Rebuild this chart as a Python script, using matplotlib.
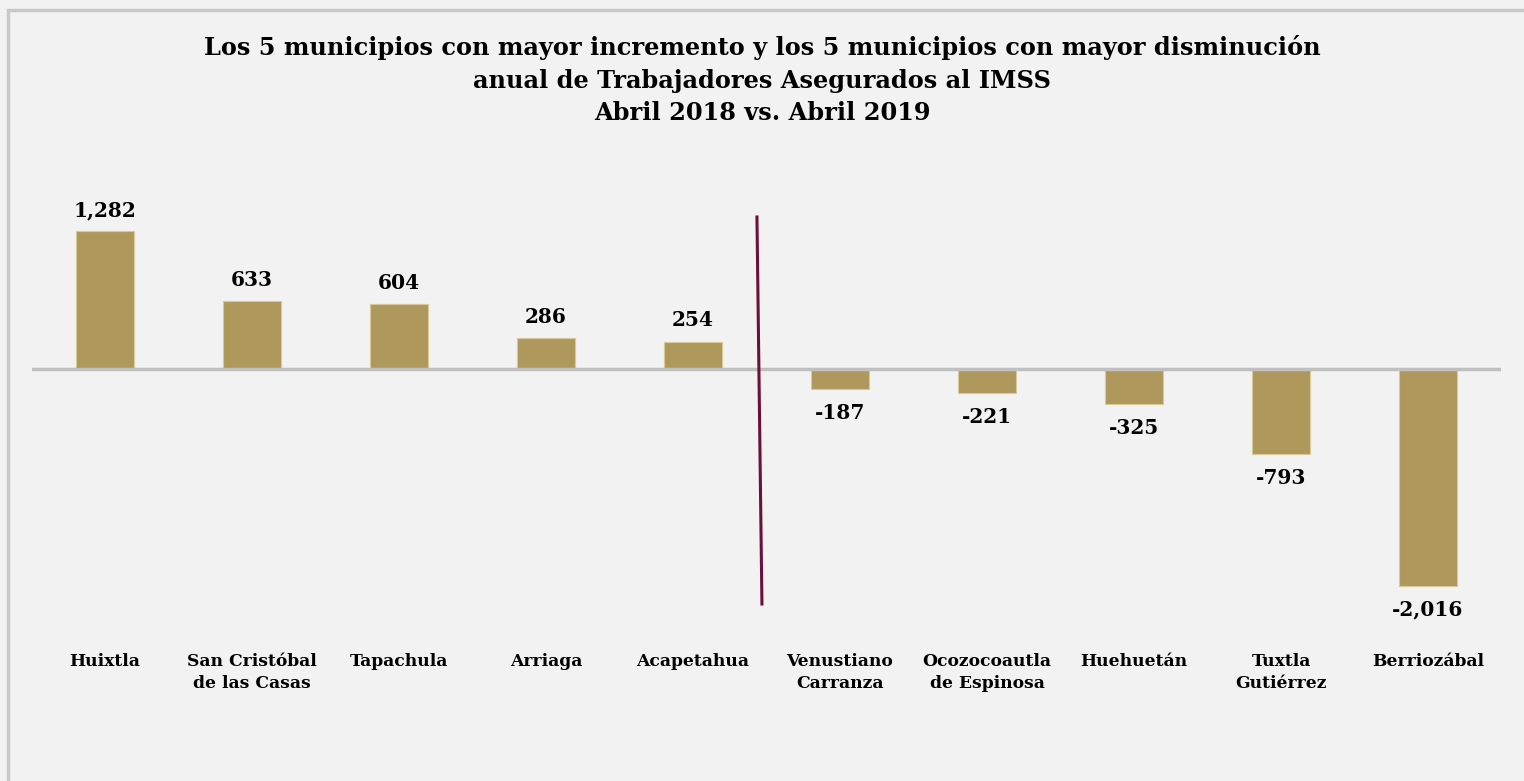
import matplotlib.pyplot as plt
from matplotlib.patches import Rectangle

# data
municipios = ["Huixtla", "San Cristóbal\nde las Casas", "Tapachula", "Arriaga", "Acapetahua",
              "Venustiano\nCarranza", "Ocozocoautla\nde Espinosa", "Huehuetán", "Tuxtla\nGutiérrez",
              "Berriozábal"]
variacion = [1282, 633, 604, 286, 254, -187, -221, -325, -793, -2016]

titulo = ("Los 5 municipios con mayor incremento y los 5 municipios con mayor disminución\n"
          "anual de Trabajadores Asegurados al IMSS\n"
          "Abril 2018 vs. Abril 2019")

W, H = 1524, 781
bg = "#f2f2f2"
bar_color = "#ae985c"

plt.rcParams['font.family'] = ['DejaVu Serif']

fig = plt.figure(figsize=(W / 100, H / 100), dpi=100)
fig.patch.set_facecolor(bg)

# outer frame (right/bottom edges run off the picture)
fig.patches.append(Rectangle((8 / W, -0.05), 1.2, (H - 10) / H + 0.05, transform=fig.transFigure,
                             fill=False, edgecolor="#c8c8c8", linewidth=2.5))

# axes placed in pixels: x 31.5..1501.5, y 200..620 (from top)
ax = fig.add_axes([31.5 / W, 1 - 620 / H, 1470 / W, 420 / H])
ax.set_facecolor(bg)
scale = 0.1075  # px per unit
ax.set_xlim(-0.5, 9.5)
ax.set_ylim(-(620 - 369) / scale, (369 - 200) / scale)
for s in ax.spines.values():
    s.set_visible(False)
ax.set_xticks([])
ax.set_yticks([])

x = list(range(len(municipios)))
ax.bar(x, variacion, width=0.4, color=bar_color, edgecolor="#d8c99a", linewidth=0.8, zorder=2)
ax.axhline(0, color="#c0c0c0", linewidth=2.5, zorder=3)

# divider between increases and decreases
ax.plot([4.435, 4.469], [1414, -2186], color="#6b1038", linewidth=2.2, zorder=4)

for xi, v in zip(x, variacion):
    lbl = f"{v:,}"
    if v >= 0:
        ax.annotate(lbl, (xi, v), xytext=(0, 11), textcoords="offset points",
                    ha="center", va="baseline", fontsize=14.5, fontweight="bold")
    else:
        ax.annotate(lbl, (xi, v), xytext=(0, -10), textcoords="offset points",
                    ha="center", va="top", fontsize=14.5, fontweight="bold")

# category labels under the axes
for xi, name in zip(x, municipios):
    ax.text(xi, -(653 - 369) / scale, name, ha="center", va="top", fontsize=12.3,
            fontweight="bold", linespacing=1.38, clip_on=False)

fig.text(0.5, 1 - 35 / H, titulo, ha="center", va="top", fontsize=17.3,
         fontweight="bold", linespacing=1.45)

fig.savefig("out.png", dpi=100, facecolor=bg)
